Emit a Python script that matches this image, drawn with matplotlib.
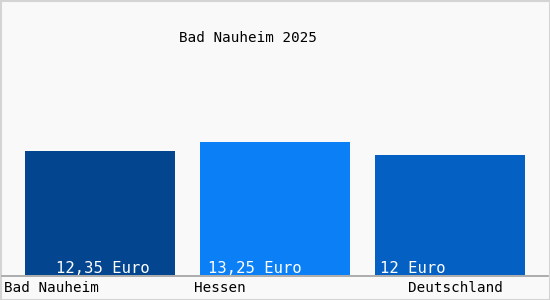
import matplotlib.pyplot as plt
from matplotlib.patches import Rectangle

# Daten
regionen = ["Bad Nauheim", "Hessen", "Deutschland"]
werte = [12.35, 13.25, 12.0]
wert_texte = ["12,35 Euro", "13,25 Euro", "12 Euro"]
farben = ["#03468f", "#0b7ff6", "#0460c2"]
titel = "Bad Nauheim 2025"

W, H = 550, 300
fig = plt.figure(figsize=(W / 100, H / 100), dpi=100)
fig.patch.set_facecolor("#f9f9f9")

# Achse: Grundlinie bei y=275 px, oben bis y=0 px
ax = fig.add_axes([0, 25 / H, 1, 275 / H])
ax.set_facecolor("#f9f9f9")
ax.set_xlim(0, W)
ax.set_ylim(0, 275 / 10.04)
ax.axis("off")

mitten = [100, 275, 450]
ax.bar(mitten, werte, width=150, color=farben)

mono = "DejaVu Sans Mono"
text_x = [56, 208, 380]
for x, t in zip(text_x, wert_texte):
    ax.text(x, 0.65, t, color="white", fontsize=11.2, family=mono,
            ha="left", va="center")

# Grundlinie
fig.add_artist(plt.Line2D([2 / W, 548 / W], [1 - 275.5 / H] * 2,
                          color="#a0a0a0", lw=1.2))

label_x = [4, 194, 408]
for x, r in zip(label_x, regionen):
    fig.text(x / W, 1 - 288 / H, r, fontsize=10.3, family=mono,
             ha="left", va="center", color="black")

fig.text(248 / W, 1 - 38 / H, titel, fontsize=10.3, family=mono,
         ha="center", va="center", color="black")

# Rahmen
fig.add_artist(Rectangle((0.5 / W, 0.5 / H), 1 - 1 / W, 1 - 1 / H,
                         transform=fig.transFigure, fill=False,
                         edgecolor="#d4d4d4", lw=1.5))

fig.savefig("out.png", dpi=100, facecolor=fig.get_facecolor())
